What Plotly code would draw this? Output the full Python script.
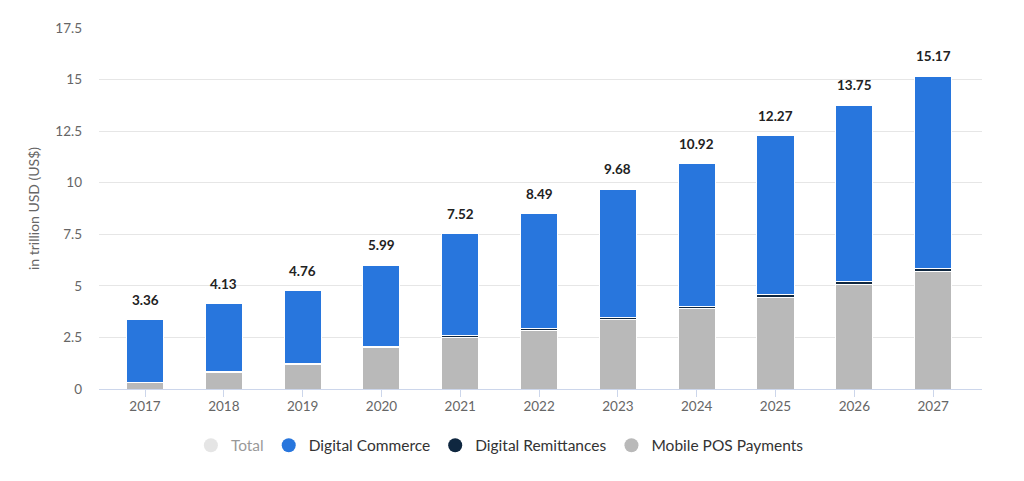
import plotly.graph_objects as go

# values in trillion USD
years = ["2017", "2018", "2019", "2020", "2021", "2022", "2023", "2024", "2025", "2026", "2027"]
total = [3.36, 4.13, 4.76, 5.99, 7.52, 8.49, 9.68, 10.92, 12.27, 13.75, 15.17]
mobile_pos = [0.30, 0.80, 1.20, 2.00, 2.52, 2.86, 3.35, 3.91, 4.45, 5.08, 5.69]
remittances = [0.03, 0.04, 0.05, 0.06, 0.08, 0.09, 0.10, 0.11, 0.12, 0.13, 0.14]
commerce = [3.03, 3.29, 3.51, 3.93, 4.92, 5.54, 6.23, 6.90, 7.70, 8.54, 9.34]

y_ticks = [0, 2.5, 5, 7.5, 10, 12.5, 15, 17.5]
y_tick_labels = ["0", "2.5", "5", "7.5", "10", "12.5", "15", "17.5"]

c_commerce = "#2876dd"
c_remit = "#0f2740"
c_pos = "#b9b9b9"
c_total = "#cccccc"

fig = go.Figure()

# stacked bars (legend drawn by the dummy traces below, to get round markers)
for name, vals, col in [("Mobile POS Payments", mobile_pos, c_pos),
                        ("Digital Remittances", remittances, c_remit),
                        ("Digital Commerce", commerce, c_commerce)]:
    fig.add_trace(go.Bar(x=years, y=vals, name=name, marker_color=col,
                         marker_line=dict(color="white", width=1),
                         showlegend=False, hoverinfo="y+name"))

# legend entries
for name, col, vis in [("Total", c_total, "legendonly"),
                       ("Digital Commerce", c_commerce, True),
                       ("Digital Remittances", c_remit, True),
                       ("Mobile POS Payments", c_pos, True)]:
    fig.add_trace(go.Scatter(x=[None], y=[None], mode="markers", name=name,
                             marker=dict(color=col, size=14, symbol="circle"),
                             visible=vis))

# total labels on top of each stack
# (x by category index - "2017" as a string would be read as index 2017)
for i, v in enumerate(total):
    fig.add_annotation(x=i, y=v, text=f"<b>{v:.2f}</b>", showarrow=False,
                       yanchor="bottom", yshift=10,
                       font=dict(size=13.5, color="#222222", family="Lato"))

# page body adds 8px, margins are shifted for that
fig.update_layout(
    width=1024, height=481,
    margin=dict(l=91, r=50, t=20, b=100),
    barmode="stack", bargap=0.53,
    plot_bgcolor="white", paper_bgcolor="white",
    font=dict(family="Lato", color="#666666", size=13),
    legend=dict(orientation="h", x=0.454, xanchor="center", y=-0.11, yanchor="top",
                font=dict(size=15.5, color="#333333"), itemwidth=30,
                traceorder="normal"),
)
fig.update_xaxes(type="category", range=[-0.584, 10.62],
                 showline=True, linecolor="#ccd6eb", linewidth=1,
                 ticks="outside", tickcolor="#ccd6eb", ticklen=7, ticklabelstandoff=-2,
                 tickfont=dict(size=13.5, color="#666666"), showgrid=False)
fig.update_yaxes(range=[0, 17.5], tickvals=y_ticks, ticktext=y_tick_labels,
                 showgrid=True, gridcolor="#e6e6e6", zeroline=False,
                 tickfont=dict(size=13.5, color="#666666"), ticklabelstandoff=16,
                 title=dict(text="in trillion USD (US$)", font=dict(size=14, color="#666666"),
                            standoff=12))

fig.write_html("out.html")
